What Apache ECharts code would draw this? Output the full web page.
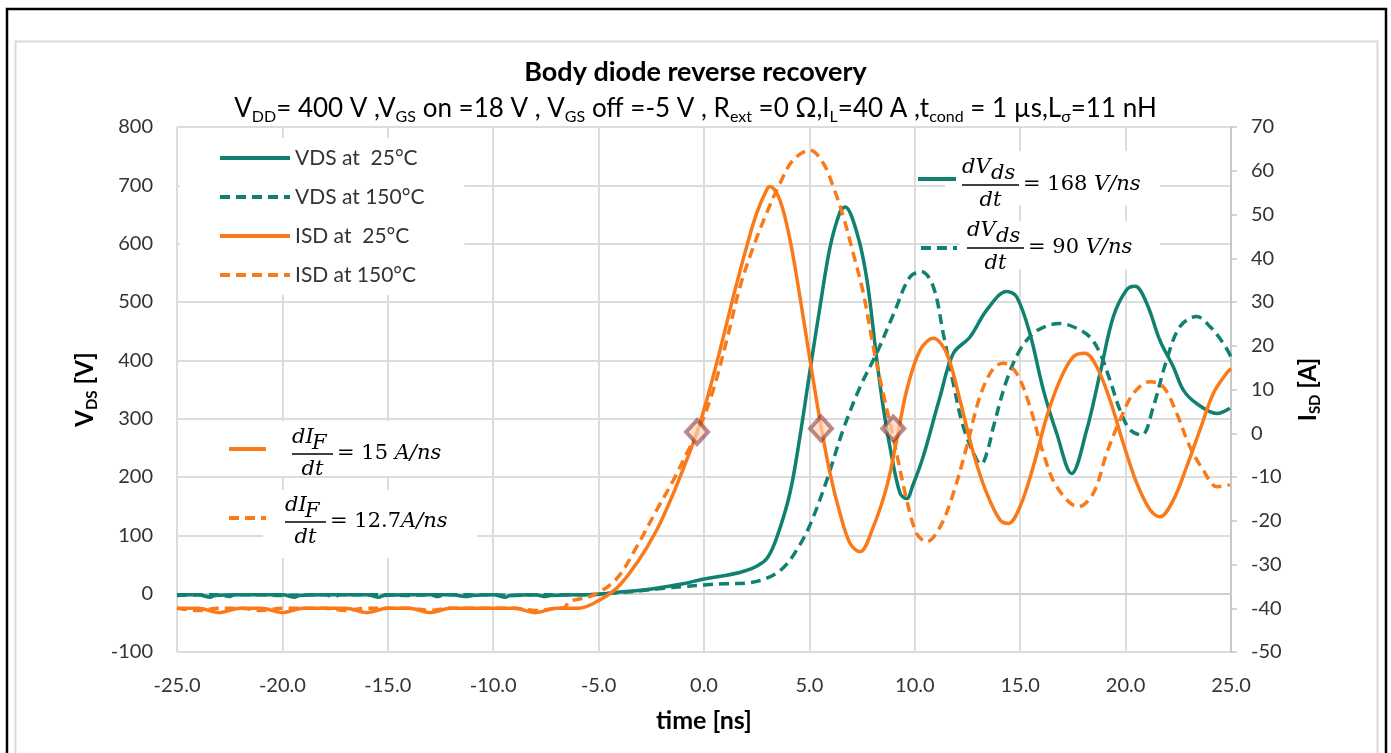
<!DOCTYPE html>
<html><head><meta charset="utf-8">
<script src="https://cdn.jsdelivr.net/npm/echarts@6/dist/echarts.min.js"></script>
<style>html,body{margin:0;padding:0;background:#fff}#c{width:1391px;height:753px}</style>
</head><body><div id="c"></div><script>
// ---- data: [time ns, value] ----
const vds25 = [[-25,-2],[-24,-2],[-23.4,-6],[-23.2,-3],[-22,-2],[-21,-2],[-20,-2],[-19.4,-6],[-19.2,-3],[-18,-2],[-17,-2],[-16,-2],[-15.4,-6],[-15.2,-3],[-14,-2],[-13,-2],[-12,-2],[-11.2,-5],[-11,-3],[-10,-2],[-9.4,-6],[-9.2,-3],[-8,-2],[-7.5,-5],[-7.3,-3],[-6,-2],[-5,-1],[-4,3],[-3,6],[-2,11],[-1,17],[0,25],[1,31],[1.85,38],[2.5,47],[3.0,61],[3.46,97],[4.08,173],[4.55,269],[5.03,383],[5.5,491],[5.98,594],[6.45,654],[6.69,663],[7.26,618],[7.73,538],[8.2,400],[8.5,320],[8.82,252],[9.3,172],[9.62,163],[9.9,185],[10.4,235],[11.2,338],[11.83,412],[12.62,440],[13.41,486],[14.36,518],[14.83,509],[15.46,446],[16.1,349],[16.73,275],[17.44,206],[18.15,280],[18.79,378],[19.42,475],[20.05,521],[20.45,527],[21.0,498],[21.63,434],[22.26,389],[22.74,349],[23.37,326],[24.32,309],[24.95,318]];
const vds150 = [[-25,-3],[-24,-2],[-23,-2],[-22.5,-5],[-22.3,-2],[-21,-2],[-20,-3],[-19,-2],[-18,-2],[-17.5,-5],[-17.3,-2],[-16,-2],[-15,-2],[-14,-3],[-13,-2],[-12.6,-5],[-12.4,-2],[-11,-2],[-10,-2],[-9,-3],[-8,-2],[-7,-2],[-6,-2],[-5,-1],[-4,2],[-3,5],[-2,9],[-1,12],[0,15],[1,17],[2,18],[3.0,27],[3.75,44],[4.4,75],[5.03,118],[5.83,195],[6.6,281],[7.4,354],[8.2,413],[9.0,480],[9.77,543],[10.33,552],[10.88,526],[11.35,446],[11.83,360],[12.3,286],[12.94,229],[13.15,222],[13.45,245],[13.73,286],[14.36,366],[14.99,418],[15.62,446],[16.26,459],[16.89,463],[17.68,455],[18.31,440],[18.79,412],[19.26,366],[19.73,315],[20.21,281],[20.76,272],[21.32,321],[21.95,401],[22.58,458],[23.37,475],[24.0,458],[24.64,429],[25.0,406]];
const isd25 = [[-25,-40],[-24,-40],[-23,-41],[-22,-40],[-21,-40],[-20,-41],[-19,-40],[-18,-40],[-17,-40],[-16,-41],[-15,-40],[-14,-40],[-13,-41],[-12,-40],[-11,-40],[-10,-40],[-9,-40],[-8,-41],[-7,-40],[-6,-40],[-5.25,-38.9],[-4.14,-35.4],[-3.19,-29.7],[-2.24,-22.1],[-1.45,-13.7],[-0.82,-6.1],[-0.35,0],[0.13,7.6],[0.76,19],[1.39,31.2],[2.02,42.6],[2.5,50.3],[2.97,55.6],[3.13,56.4],[3.6,53.3],[4.08,44.2],[4.55,31.2],[5.03,16.7],[5.5,3.0],[5.98,-9.2],[6.45,-18.3],[6.93,-25.2],[7.4,-27.1],[8.03,-21.4],[8.67,-12.2],[9.14,-1.6],[9.62,9.9],[10.25,19],[10.88,21.7],[11.51,18.3],[12.14,7.6],[12.78,-4.6],[13.41,-13.7],[14.04,-19.8],[14.44,-20.6],[14.99,-16.8],[15.62,-7.6],[16.26,3.8],[16.89,12.2],[17.52,17.5],[18.07,18.3],[18.63,15.2],[19.26,7.6],[19.89,-2.3],[20.53,-11.4],[21.16,-17.5],[21.63,-19.1],[22.26,-15.3],[22.9,-7.6],[23.53,0.8],[24.16,9.1],[24.79,13.7],[25.0,14.8]];
const isd150 = [[-25,-40],[-24,-40.5],[-23,-40],[-22,-40],[-21,-40.5],[-20,-40],[-19,-40],[-18,-40],[-17,-40.5],[-16,-40],[-15,-40],[-14,-40],[-13,-40.5],[-12,-40],[-11,-40],[-10,-40],[-9,-40],[-8,-40.5],[-7,-40],[-6.6,-39.8],[-6.4,-38.5],[-5.25,-37],[-4.14,-33.2],[-3.19,-25.9],[-2.24,-17.5],[-1.45,-10.7],[-0.82,-4.6],[-0.19,1.5],[0.44,9.9],[1.08,21.3],[1.71,33.5],[2.34,42.6],[2.97,50.3],[3.6,57.1],[4.24,62.5],[5.03,64.7],[5.66,61.7],[6.13,56.4],[6.61,49.5],[7.08,41.1],[7.56,32],[8.03,19.8],[8.5,9.1],[8.98,-1],[9.62,-15.3],[10.09,-22.9],[10.56,-24.8],[11.2,-21.4],[11.83,-13.7],[12.46,-3.1],[13.09,8.4],[13.72,14.8],[14.2,16],[14.83,13.7],[15.46,6.1],[16.1,-4.6],[16.73,-12.2],[17.76,-16.8],[18.47,-13.7],[19.1,-4.6],[19.73,3.0],[20.37,9.1],[21.16,11.8],[21.79,10.6],[22.42,4.6],[23.05,-3.1],[23.68,-8.4],[24.32,-12.2],[24.95,-11.8]];
const markerTimes = [-0.33, 5.55, 8.98];
const markerIsd = [0.3, 1.1, 1.1];
const seriesNames = ['VDS at  25°C', 'VDS at 150°C', 'ISD at  25°C', 'ISD at 150°C'];
const titleText = 'Body diode reverse recovery';

const TEAL = '#108070', ORANGE = '#fa7a1a';
const FONT = 'Lato';
const MATH = '"DejaVu Serif"';
const DASH = [10, 6];

const chart = echarts.init(document.getElementById('c'));

function mathEls(o) {
  const it = 'italic 21px ' + MATH, up = '21px ' + MATH;
  const t = (x, y, s, f, al) => ({type:'text', x, y, z:20, style:{text:s, font:f, fill:'#000', align:al||'left', verticalAlign:'middle', textAlign:al||'left', textVerticalAlign:'middle'}});
  return [
    {type:'line', z:20, shape:{x1:o.lx1, y1:o.ly, x2:o.lx2, y2:o.ly}, style:{stroke:o.color, lineWidth:4, lineDash:o.dash?DASH:null}},
    t(o.nx, o.ny, o.n1, it),
    t(o.sx, o.ny + 6, o.n2, it),
    {type:'line', z:20, shape:{x1:o.bx1, y1:o.by, x2:o.bx2, y2:o.by}, style:{stroke:'#000', lineWidth:1.5}},
    t((o.bx1 + o.bx2) / 2, o.by + 16, 'dt', it, 'center'),
    {type:'text', x:o.rx, y:o.by, z:20, style:{text:'{u|' + o.r1 + '}{i|' + o.r2 + '}', font:up, fill:'#000', verticalAlign:'middle', textVerticalAlign:'middle', rich:{u:{font:up, fill:'#000'}, i:{font:it, fill:'#000'}}}}
  ];
}

const graphics = [
  {type:'rect', z:-10, silent:true, shape:{x:7, y:9, width:1379, height:800}, style:{fill:'none', stroke:'#000', lineWidth:2.5}},
  {type:'rect', z:-10, silent:true, shape:{x:15.5, y:41.5, width:1362, height:800}, style:{fill:'none', stroke:'#d9d9d9', lineWidth:2}},
  {type:'rect', z:1, shape:{x:945, y:151, width:215, height:54}, style:{fill:'#fff'}},
  {type:'rect', z:1, shape:{x:960, y:221, width:200, height:48}, style:{fill:'#fff'}},
  {type:'rect', z:1, shape:{x:270, y:421, width:210, height:55}, style:{fill:'#fff'}},
  {type:'rect', z:1, shape:{x:263, y:490, width:214, height:68}, style:{fill:'#fff'}},
].concat(
  mathEls({color:TEAL, dash:false, lx1:918, lx2:956, ly:179, nx:962, sx:991, ny:168, n1:'dV', n2:'ds', bx1:962, bx2:1019, by:185, rx:1023, r1:'= 168 ', r2:'V/ns'}),
  mathEls({color:TEAL, dash:true, lx1:921, lx2:957, ly:248, nx:967, sx:996, ny:231, n1:'dV', n2:'ds', bx1:967, bx2:1024, by:248, rx:1028, r1:'= 90 ', r2:'V/ns'}),
  mathEls({color:ORANGE, dash:false, lx1:229, lx2:266, ly:449, nx:292, sx:312, ny:438, n1:'dI', n2:'F', bx1:292, bx2:333, by:454, rx:337, r1:'= 15 ', r2:'A/ns'}),
  mathEls({color:ORANGE, dash:true, lx1:229, lx2:266, ly:518, nx:285, sx:305, ny:506, n1:'dI', n2:'F', bx1:285, bx2:326, by:522, rx:330, r1:'= 12.7', r2:'A/ns'})
);

function lineSeries(name, data, color, dashed, yIdx) {
  return {
    name, type:'line', data, yAxisIndex:yIdx, symbol:'none', smooth:0.35,
    lineStyle:{color, width:3.5, type: dashed ? DASH : 'solid'},
    itemStyle:{color}, z:3
  };
}

const subRich = {
  n:{fontFamily:FONT, fontWeight:'normal', fontSize:26, color:'#000', lineHeight:32},
  s:{fontFamily:FONT, fontWeight:'normal', fontSize:16, color:'#000', lineHeight:17, verticalAlign:'bottom'}
};
const nameRich = {
  b:{fontFamily:FONT, fontWeight:'bold', fontSize:24, color:'#000', lineHeight:30},
  bs:{fontFamily:FONT, fontWeight:'bold', fontSize:15, color:'#000', lineHeight:16, verticalAlign:'bottom'}
};

chart.setOption({
  animation:false,
  backgroundColor:'#fff',
  title:[
    {text:titleText, left:'center', top:54, textStyle:{fontFamily:FONT, fontWeight:'bold', fontSize:27, color:'#000'}},
    {text:'{n|V}{s|DD}{n|= 400 V ,V}{s|GS}{n| on =18 V , V}{s|GS}{n| off =-5 V , R}{s|ext}{n| =0 Ω,I}{s|L}{n|=40 A ,t}{s|cond}{n| = 1 µs,L}{s|σ}{n|=11 nH}',
     left:'center', top:88, textStyle:{fontWeight:'normal', rich:subRich}}
  ],
  legend:{
    data:seriesNames, orient:'vertical', left:180, top:138,
    padding:[7, 40, 7, 38], itemGap:13, itemWidth:70, itemHeight:14,
    backgroundColor:'#fff',
    itemStyle:{color:'rgba(0,0,0,0)', borderColor:'rgba(0,0,0,0)', borderWidth:0, opacity:0},
    lineStyle:{width:4},
    textStyle:{fontFamily:FONT, fontSize:21, color:'#333', lineHeight:26}
  },
  grid:{left:177, right:160, top:127, bottom:101, containLabel:false},
  xAxis:{
    type:'value', min:-25, max:25, interval:5,
    name:'time [ns]', nameLocation:'middle', nameGap:56,
    nameTextStyle:{fontFamily:FONT, fontWeight:'bold', fontSize:25, color:'#000'},
    axisLine:{show:true, lineStyle:{color:'#d0d0d0', width:2}},
    axisTick:{show:false},
    axisLabel:{margin:24, fontFamily:FONT, fontSize:20, color:'#333', formatter:v => v.toFixed(1)},
    splitLine:{show:true, lineStyle:{color:'#dcdcdc', width:2}}
  },
  yAxis:[
    {type:'value', min:-100, max:800, interval:100, position:'left',
     name:'{b|V}{bs|DS}{b| [V]}', nameLocation:'middle', nameRotate:90, nameGap:74,
     nameTextStyle:{rich:nameRich},
     axisLine:{show:false}, axisTick:{show:false},
     axisLabel:{margin:24, fontFamily:FONT, fontSize:20, color:'#333'},
     splitLine:{show:true, lineStyle:{color:'#dcdcdc', width:2}}},
    {type:'value', min:-50, max:70, interval:10, position:'right', alignTicks:false,
     name:'{b|I}{bs|SD}{b| [A]}', nameLocation:'middle', nameRotate:90, nameGap:62,
     nameTextStyle:{rich:nameRich},
     axisLine:{show:true, lineStyle:{color:'#c8c8c8', width:2}},
     axisTick:{show:true, inside:false, length:6, lineStyle:{color:'#c8c8c8', width:1.5}},
     axisLabel:{margin:20, fontFamily:FONT, fontSize:20, color:'#333'},
     splitLine:{show:false}}
  ],
  graphic:{elements:graphics},
  series:[
    lineSeries(seriesNames[0], vds25, TEAL, false, 0),
    lineSeries(seriesNames[1], vds150, TEAL, true, 0),
    lineSeries(seriesNames[2], isd25, ORANGE, false, 1),
    lineSeries(seriesNames[3], isd150, ORANGE, true, 1),
    {name:'markers', type:'scatter', yAxisIndex:1, z:5,
     data:markerTimes.map((t, i) => [t, markerIsd[i]]),
     symbol:'diamond', symbolSize:[22, 24],
     itemStyle:{color:'rgba(255,210,180,0.85)', borderColor:'rgba(120,40,50,0.65)', borderWidth:4}}
  ]
});
</script></body></html>
